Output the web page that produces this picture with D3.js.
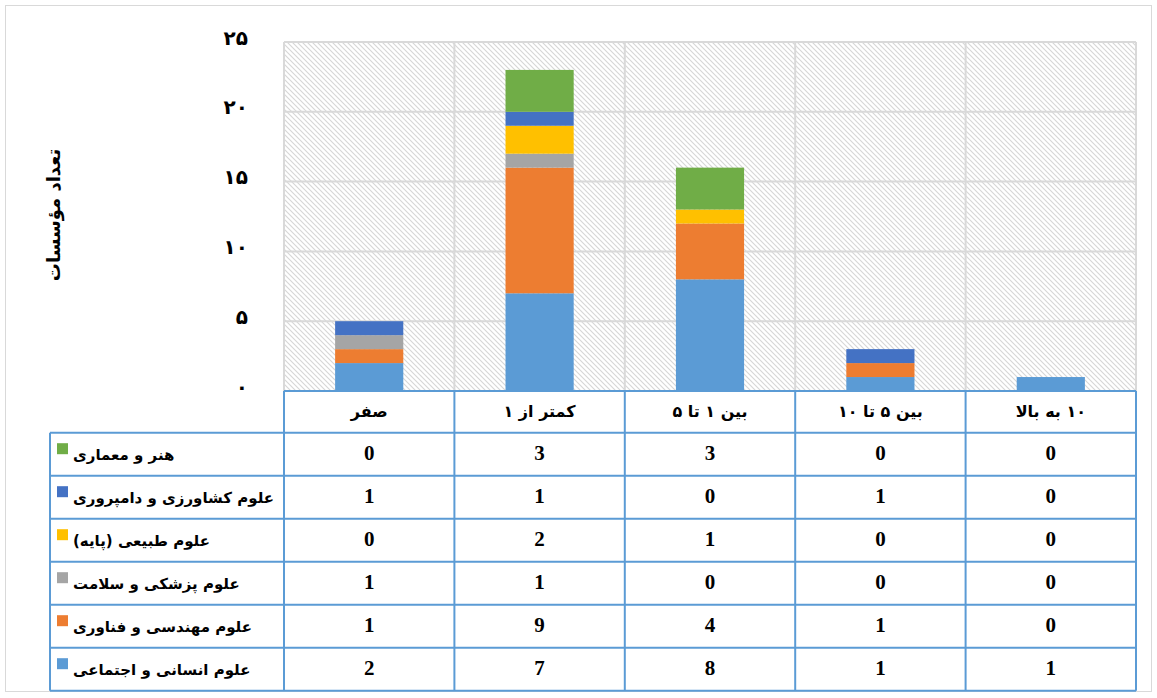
<!DOCTYPE html>
<html lang="fa">
<head>
<meta charset="utf-8">
<title>institutes</title>
<script src="https://d3js.org/d3.v7.min.js"></script>
<style>
  body { margin: 0; background: #fff; }
  .fa { font-family: "DejaVu Sans", sans-serif; font-weight: bold; }
  .num { font-family: "Liberation Serif", "Times New Roman", serif; font-weight: bold; }
</style>
</head>
<body>
<svg id="chart" width="1157" height="698"></svg>
<script>
// categories (columns) and series (stack order bottom -> top)
const categories = ["صفر", "کمتر از ۱", "بین ۱ تا ۵", "بین ۵ تا ۱۰", "۱۰ به بالا"];
const seriesNames = ["علوم انسانی و اجتماعی", "علوم مهندسی و فناوری", "علوم پزشکی و سلامت",
                     "علوم طبیعی (پایه)", "علوم کشاورزی و دامپروری", "هنر و معماری"];
const humanities  = [2, 7, 8, 1, 1];
const engineering = [1, 9, 4, 1, 0];
const medical     = [1, 1, 0, 0, 0];
const natural     = [0, 2, 1, 0, 0];
const agriculture = [1, 1, 0, 1, 0];
const art         = [0, 3, 3, 0, 0];
const yTicks = [0, 5, 10, 15, 20, 25];
const colors = ["#5B9BD5", "#ED7D31", "#A5A5A5", "#FFC000", "#4472C4", "#70AD47"];
const yTitle = "تعداد مؤسسات";

const allSeries = [humanities, engineering, medical, natural, agriculture, art];

const svg = d3.select("#chart");
const W = 1157, H = 698;
const plotL = 284, plotR = 1136, plotT = 42, base = 391;
const tableLeft = 50, headH = 41.7, rowH = 43;
const gridCol = "#d9d9d9", tblCol = "#5B9BD5";

const faDigits = n => String(n).replace(/\d/g, d => "۰۱۲۳۴۵۶۷۸۹"[d]);

// table rows for stacking
const rows = categories.map((c, i) => {
  const r = {cat: c};
  seriesNames.forEach((s, j) => r[s] = allSeries[j][i]);
  return r;
});
const stacked = d3.stack().keys(seriesNames)(rows);

const x = d3.scaleBand().domain(categories).range([plotL, plotR]);
const y = d3.scaleLinear().domain([0, 25]).range([base, plotT]);
const barW = x.bandwidth() * 0.4;

// outer border
svg.append("rect").attr("x", 5.5).attr("y", 5.5).attr("width", W - 11).attr("height", H - 12)
   .attr("fill", "#fff").attr("stroke", gridCol).attr("stroke-width", 1);

// hatched plot background
const defs = svg.append("defs");
const pat = defs.append("pattern").attr("id", "hatch").attr("patternUnits", "userSpaceOnUse")
   .attr("width", 5).attr("height", 5);
pat.append("rect").attr("width", 5).attr("height", 5).attr("fill", "#fff");
pat.append("path").attr("d", "M-1,-1L6,6M-1,4L1,6M4,-1L6,1")
   .attr("stroke", "#d6d6d6").attr("stroke-width", 1.1);
svg.append("rect").attr("x", plotL).attr("y", plotT).attr("width", plotR - plotL).attr("height", base - plotT)
   .attr("fill", "url(#hatch)");

// gridlines
svg.append("g").selectAll("line").data(yTicks.filter(t => t > 0)).join("line")
   .attr("x1", plotL).attr("x2", plotR).attr("y1", d => y(d)).attr("y2", d => y(d))
   .attr("stroke", gridCol).attr("stroke-width", 2);
const vlines = categories.map(c => x(c)).concat([plotR]);
svg.append("g").selectAll("line").data(vlines).join("line")
   .attr("x1", d => d).attr("x2", d => d).attr("y1", plotT).attr("y2", base)
   .attr("stroke", gridCol).attr("stroke-width", 2);

// bars
svg.append("g").selectAll("g").data(stacked).join("g")
   .attr("fill", (d, i) => colors[i])
   .selectAll("rect").data(d => d).join("rect")
   .attr("x", d => x(d.data.cat) + (x.bandwidth() - barW) / 2)
   .attr("width", barW)
   .attr("y", d => y(d[1]))
   .attr("height", d => y(d[0]) - y(d[1]));

// y axis labels
svg.append("g").selectAll("text").data(yTicks).join("text")
   .attr("class", "fa").attr("x", 248).attr("y", d => y(d) - 3)
   .attr("text-anchor", "end").attr("dominant-baseline", "middle")
   .attr("font-size", 20).attr("fill", "#000")
   .text(d => faDigits(d));

svg.append("text").attr("class", "fa").attr("direction", "rtl")
   .attr("transform", "translate(55,215) rotate(-90)")
   .attr("text-anchor", "middle").attr("dominant-baseline", "middle")
   .attr("font-size", 18).text(yTitle);

// data table
const tbl = svg.append("g");
const tableRows = seriesNames.map((s, j) => ({name: s, vals: allSeries[j], color: colors[j]})).reverse();
const rowTop = i => base + headH + i * rowH;
const tableBottom = rowTop(tableRows.length);

// header
tbl.selectAll("text.head").data(categories).join("text")
   .attr("class", "fa head").attr("direction", "rtl")
   .attr("x", d => x(d) + x.bandwidth() / 2).attr("y", base + headH / 2 + 1)
   .attr("text-anchor", "middle").attr("dominant-baseline", "middle")
   .attr("font-size", 16).text(d => d);

tableRows.forEach((r, i) => {
  const cy = rowTop(i) + rowH / 2;
  tbl.append("rect").attr("x", 57).attr("y", rowTop(i) + 10.5).attr("width", 11).attr("height", 11)
     .attr("fill", r.color);
  tbl.append("text").attr("class", "fa").attr("direction", "rtl")
     .attr("x", 73).attr("y", cy + 1).attr("text-anchor", "end").attr("dominant-baseline", "middle")
     .attr("font-size", 15).text(r.name);
  tbl.selectAll(null).data(r.vals).join("text")
     .attr("class", "num").attr("x", (d, k) => x(categories[k]) + x.bandwidth() / 2)
     .attr("y", cy + 1).attr("text-anchor", "middle").attr("dominant-baseline", "middle")
     .attr("font-size", 21).text(d => d);
});

// table borders
const hl = [[plotL, base], [tableLeft, rowTop(0)]];
for (let i = 1; i <= tableRows.length; i++) hl.push([tableLeft, rowTop(i)]);
tbl.selectAll("line.h").data(hl).join("line")
   .attr("x1", d => d[0]).attr("x2", plotR).attr("y1", d => d[1]).attr("y2", d => d[1])
   .attr("stroke", tblCol).attr("stroke-width", 2);
tbl.selectAll("line.v").data(vlines).join("line").attr("class", "v")
   .attr("x1", d => d).attr("x2", d => d).attr("y1", base).attr("y2", tableBottom)
   .attr("stroke", tblCol).attr("stroke-width", 2);
tbl.append("line").attr("x1", tableLeft).attr("x2", tableLeft).attr("y1", rowTop(0)).attr("y2", tableBottom)
   .attr("stroke", tblCol).attr("stroke-width", 2);
</script>
</body>
</html>
